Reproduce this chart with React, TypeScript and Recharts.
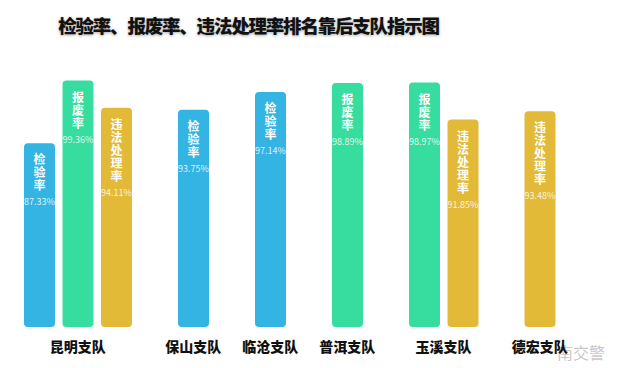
import React from "react";
import { BarChart, Bar, XAxis, YAxis, Cell, LabelList } from "recharts";

const groups = ["昆明支队", "保山支队", "临沧支队", "普洱支队", "玉溪支队", "德宏支队"];
const metrics = ["检验率", "报废率", "违法处理率"];
const inspectionRate = [87.33, 93.75, 97.14, null, null, null];
const scrapRate = [99.36, null, null, 98.89, 98.97, null];
const violationRate = [94.11, null, null, null, 91.85, 93.48];
const colors = ["#34b4e2", "#37dc9f", "#e2ba37"];

const W = 625;
const H = 368;
const margin = { top: 72, right: 66, bottom: 5, left: 20 };

type Row = {
  slot: string;
  group: string;
  metric: number;
  value: number | null;
  first: boolean;
  count: number;
};

// one slot per bar, an empty slot between groups
const rows: Row[] = [];
groups.forEach((g, gi) => {
  const vals = [inspectionRate[gi], scrapRate[gi], violationRate[gi]];
  const present = vals.map((v, mi) => ({ v, mi })).filter((d) => d.v != null);
  present.forEach((d, k) => {
    rows.push({ slot: `${gi}-${d.mi}`, group: g, metric: d.mi, value: d.v, first: k === 0, count: present.length });
  });
  if (gi < groups.length - 1) {
    rows.push({ slot: `gap-${gi}`, group: "", metric: -1, value: null, first: false, count: 0 });
  }
});
// labels are only handed out for slots that have a value
const barRows = rows.filter((r) => r.value != null);

const step = (W - margin.left - margin.right) / rows.length;
const font = '"Noto Sans CJK SC", "Noto Sans", sans-serif';

const GroupTick = (props: any) => {
  const { x, y, index } = props;
  const row = rows[index];
  if (!row || !row.first) return null;
  const cx = x + ((row.count - 1) / 2) * step;
  return (
    <text
      x={cx}
      y={y + 17}
      textAnchor="middle"
      fontFamily={font}
      fontWeight={900}
      fontSize={14}
      fill="#111"
    >
      {row.group}
    </text>
  );
};

const BarLabel = (props: any) => {
  const { x, y, width, index } = props;
  const row = barRows[index];
  if (!row || row.value == null) return null;
  const cx = x + width / 2;
  const name = metrics[row.metric];
  const fs = 12;
  const gapY = 1;
  const top = y + 10.5;
  const nameLen = name.length * (fs + gapY);
  return (
    <g>
      <text
        x={cx}
        y={top}
        fontFamily={font}
        fontWeight={700}
        fontSize={fs}
        fill="#fff"
        letterSpacing={gapY}
        style={{ writingMode: "vertical-rl" }}
      >
        {name}
      </text>
      <text
        x={cx}
        y={top + nameLen + 9}
        textAnchor="middle"
        dominantBaseline="central"
        fontFamily={font}
        fontSize={9}
        fill="rgba(255,255,255,0.85)"
      >
        {row.value.toFixed(2)}%
      </text>
    </g>
  );
};

export default function App() {
  return (
    <div style={{ position: "absolute", left: 0, top: 0, width: W, height: H, background: "#fff" }}>
      <div
        style={{
          position: "absolute",
          left: 557,
          top: 340,
          fontFamily: font,
          fontSize: 16,
          color: "rgba(150,150,150,0.55)",
          whiteSpace: "nowrap",
        }}
      >
        南交警
      </div>
      <div
        style={{
          position: "absolute",
          left: 0,
          width: 497,
          top: 12,
          textAlign: "center",
          fontFamily: font,
          fontWeight: 900,
          fontSize: 18.5,
          letterSpacing: -1.2,
          color: "#111",
          whiteSpace: "nowrap",
          textShadow: "0 1px 3px rgba(0,0,0,0.35)",
        }}
      >
        检验率、报废率、违法处理率排名靠后支队指示图
      </div>
      <div style={{ position: "absolute", left: 0, top: 0 }}>
        <BarChart width={W} height={H} data={rows} margin={margin} barSize={31}>
          <XAxis
            dataKey="slot"
            interval={0}
            axisLine={false}
            tickLine={false}
            height={36}
            tick={<GroupTick />}
          />
          <YAxis hide domain={[52, 101]} allowDataOverflow />
          <Bar dataKey="value" radius={4} isAnimationActive={false}>
            {rows.map((r, i) => (
              <Cell key={i} fill={r.metric >= 0 ? colors[r.metric] : "transparent"} />
            ))}
            <LabelList dataKey="value" content={<BarLabel />} />
          </Bar>
        </BarChart>
      </div>
    </div>
  );
}
